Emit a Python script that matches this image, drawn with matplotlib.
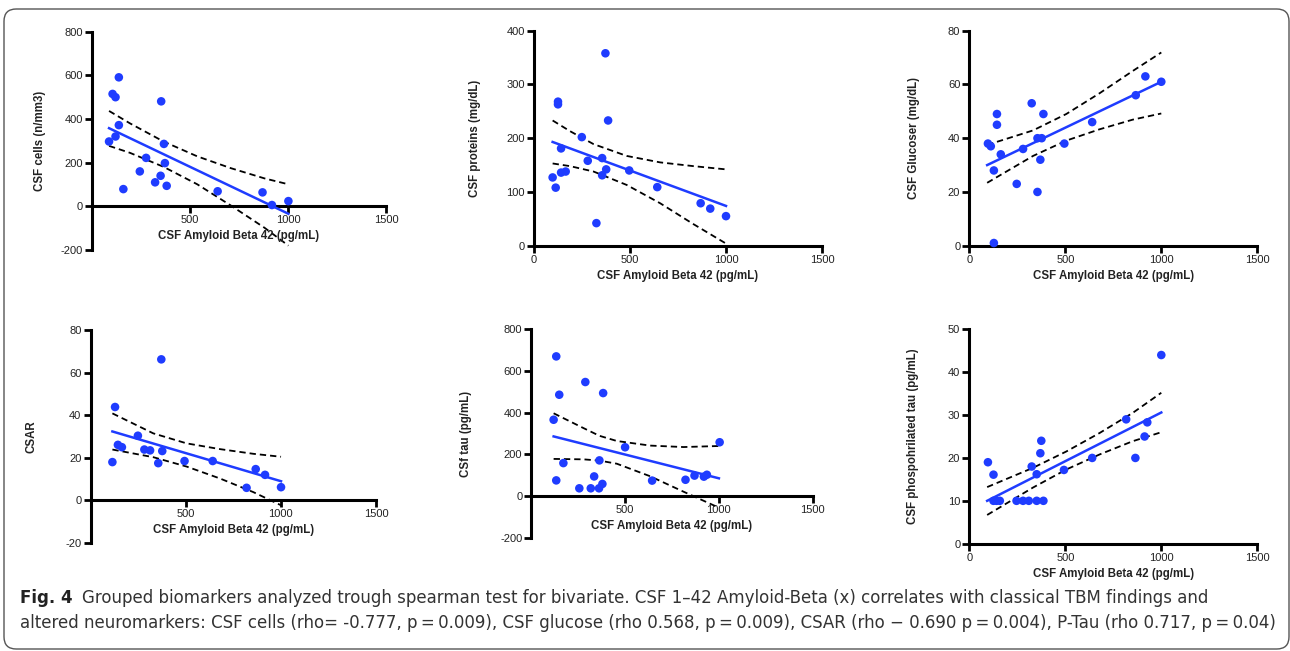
import numpy as np
import matplotlib
matplotlib.use('Agg')
import matplotlib.pyplot as plt
from matplotlib.patches import FancyBboxPatch
from matplotlib.transforms import blended_transform_factory

plt.rcParams['axes.unicode_minus'] = False

# ---------------- data ----------------
cells_x = [87, 105, 120, 137, 137, 120, 160, 244, 276, 322, 350, 353, 367, 372, 381, 641, 870, 918, 1002]
cells_y = [297, 515, 500, 591, 372, 320, 79, 160, 222, 110, 140, 481, 286, 198, 94, 69, 64, 6, 24]

prot_x = [97, 113, 125, 125, 141, 141, 165, 249, 280, 325, 355, 355, 372, 376, 386, 496, 642, 868, 918, 1000]
prot_y = [127, 108, 268, 263, 181, 136, 138, 202, 158, 42, 163, 131, 358, 142, 233, 140, 109, 79, 69, 55]

gluc_x = [97, 112, 128, 128, 144, 144, 164, 247, 280, 325, 355, 355, 370, 377, 386, 495, 640, 867, 917, 1000]
gluc_y = [38, 37, 28, 1, 49, 45, 34, 23, 36, 53, 20, 40, 32, 40, 49, 38, 46, 56, 63, 61]

csar_x = [115, 129, 144, 165, 249, 283, 313, 356, 372, 377, 494, 642, 820, 868, 917, 1001]
csar_y = [17.9, 43.8, 26.0, 24.9, 30.3, 23.8, 23.4, 17.4, 66.2, 23.1, 18.4, 18.4, 5.8, 14.6, 11.9, 6.1]

tau_x = [119, 133, 133, 149, 171, 256, 288, 317, 335, 361, 363, 379, 383, 500, 644, 822, 870, 920, 936, 1004]
tau_y = [366, 670, 75, 486, 158, 37, 547, 37, 94, 37, 171, 58, 494, 234, 74, 78, 98, 93, 102, 258]

ptau_x = [97, 126, 126, 142, 159, 246, 280, 310, 325, 351, 351, 370, 375, 386, 493, 640, 817, 865, 913, 927, 1000]
ptau_y = [19, 16.1, 10, 10, 10, 10, 10, 10, 18, 10, 16.2, 21.1, 24, 10, 17.2, 20, 29, 20, 25, 28.3, 44]

# regression lines (end points) and 95% confidence bands
cells_fit_x = [87, 1002]
cells_fit_y = [358, -34]
cells_band_x = [87, 194, 365, 537, 708, 880, 1002]
cells_band_hi = [437, 380, 297, 229, 175, 128, 101]
cells_band_lo = [277, 245, 181, 101, 4, -98, -180]

prot_fit_x = [97, 1000]
prot_fit_y = [193, 74]
prot_band_x = [97, 188, 310, 483, 657, 831, 1000]
prot_band_hi = [233, 213, 189, 167, 155, 148, 142]
prot_band_lo = [153, 148, 138, 113, 79, 40, 4]

gluc_fit_x = [93, 1000]
gluc_fit_y = [30.0, 61.0]
gluc_band_x = [93, 332, 505, 678, 851, 1000]
gluc_band_hi = [37.5, 42.9, 49.0, 56.7, 65.0, 71.9]
gluc_band_lo = [23.4, 33.4, 39.1, 43.3, 46.9, 49.2]

csar_fit_x = [115, 1001]
csar_fit_y = [32.3, 8.9]
csar_band_x = [115, 330, 505, 680, 855, 1001]
csar_band_hi = [40.8, 31.4, 26.7, 24.0, 21.8, 20.4]
csar_band_lo = [23.8, 20.2, 15.8, 10.2, 3.8, -2.4]

tau_fit_x = [119, 1000]
tau_fit_y = [286, 85]
tau_band_x = [119, 278, 363, 456, 633, 811, 1000]
tau_band_hi = [397, 326, 289, 264, 242, 235, 240]
tau_band_lo = [178, 176, 170, 155, 95, 21, -56]

ptau_fit_x = [93, 1000]
ptau_fit_y = [10.0, 30.6]
ptau_band_x = [93, 332, 505, 678, 851, 1000]
ptau_band_hi = [13.2, 17.7, 21.5, 25.8, 30.5, 35.2]
ptau_band_lo = [6.7, 13.1, 17.3, 20.8, 23.9, 26.0]

x_label = "CSF Amyloid Beta 42 (pg/mL)"
y_labels = ["CSF cells (n/mm3)", "CSF proteins (mg/dL)", "CSF Glucoser (mg/dL)",
            "CSAR", "CSf tau (pg/mL)", "CSF phospohrilated tau (pg/mL)"]

x_ticks_a = [500, 1000, 1500]
x_ticks_b = [0, 500, 1000, 1500]
y_ticks = [
    [-200, 0, 200, 400, 600, 800],
    [0, 100, 200, 300, 400],
    [0, 20, 40, 60, 80],
    [-20, 0, 20, 40, 60, 80],
    [-200, 0, 200, 400, 600, 800],
    [0, 10, 20, 30, 40, 50],
]

caption_bold = "Fig. 4"
caption_1 = ("Grouped biomarkers analyzed trough spearman test for bivariate. CSF 1\u201342 Amyloid-Beta (x) "
             "correlates with classical TBM findings and")
caption_2 = ("altered neuromarkers: CSF cells (rho= -0.777, p\u2009=\u20090.009), CSF glucose (rho 0.568, p\u2009=\u20090.009), "
             "CSAR (rho \u2212 0.690 p\u2009=\u20090.004), P-Tau (rho 0.717, p\u2009=\u20090.04)")

BLUE = '#1f3cff'
W, H = 1290, 651

fig = plt.figure(figsize=(W / 100, H / 100), dpi=100)
fig.patch.set_facecolor('white')

# frame
frame = FancyBboxPatch((4 / W, 2 / H), 1285 / W, 640 / H,
                       boxstyle="round,pad=0,rounding_size=0.0095",
                       mutation_aspect=W / H, transform=fig.transFigure,
                       facecolor='none', edgecolor='#555555', lw=1.0)
fig.patches.append(frame)

# axes layout in pixels: (left, top, right, bottom) of plot area
boxes = [
    (92, 31.7, 386, 250),
    (534, 30.7, 822, 245.7),
    (969.3, 30.7, 1257.3, 245.7),
    (90.5, 330, 376, 542.7),
    (531.3, 329.3, 812.7, 537.7),
    (969.3, 329.3, 1257.3, 543.7),
]
ylabel_off = [52, 59, 55, 59, 65, 56]

panels = [
    (cells_x, cells_y, cells_fit_x, cells_fit_y, cells_band_x, cells_band_hi, cells_band_lo),
    (prot_x, prot_y, prot_fit_x, prot_fit_y, prot_band_x, prot_band_hi, prot_band_lo),
    (gluc_x, gluc_y, gluc_fit_x, gluc_fit_y, gluc_band_x, gluc_band_hi, gluc_band_lo),
    (csar_x, csar_y, csar_fit_x, csar_fit_y, csar_band_x, csar_band_hi, csar_band_lo),
    (tau_x, tau_y, tau_fit_x, tau_fit_y, tau_band_x, tau_band_hi, tau_band_lo),
    (ptau_x, ptau_y, ptau_fit_x, ptau_fit_y, ptau_band_x, ptau_band_hi, ptau_band_lo),
]

FONT = 'Liberation Sans'
DASH = (0, (3.5, 2.2))

for i, ((l, t, r, b), (xd, yd, fx, fy, bx, bhi, blo)) in enumerate(zip(boxes, panels)):
    ax = fig.add_axes([l / W, 1 - b / H, (r - l) / W, (b - t) / H])
    yt = y_ticks[i]
    ax.set_xlim(0, 1500)
    ax.set_ylim(yt[0], yt[-1])
    ax.set_xticks(x_ticks_a if yt[0] < 0 else x_ticks_b)
    ax.set_yticks(yt)
    for sp in ['top', 'right']:
        ax.spines[sp].set_visible(False)
    ax.spines['left'].set_linewidth(2.2)
    ax.spines['bottom'].set_linewidth(2.2)
    ax.spines['bottom'].set_position(('data', 0))
    ax.tick_params(direction='out', length=5, width=2, labelsize=8,
                   colors='black', pad=1.5)
    for lab in ax.get_xticklabels() + ax.get_yticklabels():
        lab.set_fontfamily(FONT)
        lab.set_color('#222222')
    ax.patch.set_alpha(0)

    ax.plot(bx, bhi, ls=DASH, color='black', lw=1.3, zorder=2, clip_on=False)
    ax.plot(bx, blo, ls=DASH, color='black', lw=1.3, zorder=2, clip_on=False)
    ax.plot(fx, fy, color=BLUE, lw=1.8, zorder=3, clip_on=False)
    ax.scatter(xd, yd, s=38, color=BLUE, edgecolors='none', zorder=4, clip_on=False)

    tr = blended_transform_factory(ax.transAxes, ax.transData)
    ax.annotate(x_label, xy=(0.5, 0), xycoords=tr, xytext=(0, -30),
                textcoords='offset pixels', ha='center', va='center',
                fontsize=8.3, fontweight='bold', fontfamily=FONT, color='#222222')
    ax.annotate(y_labels[i], xy=(0, 0.5), xycoords='axes fraction',
                xytext=(-ylabel_off[i], 0), textcoords='offset pixels',
                ha='center', va='center', rotation=90,
                fontsize=8.3, fontweight='bold', fontfamily=FONT, color='#222222')

# caption
cap_fam = 'DejaVu Sans'
fig.text(20 / W, 1 - 603 / H, caption_bold, fontsize=12, fontweight='bold',
         fontfamily=cap_fam, va='baseline', ha='left', color='#222222')
fig.text(82 / W, 1 - 603 / H, caption_1, fontsize=12, fontfamily=cap_fam,
         va='baseline', ha='left', color='#333333')
fig.text(20 / W, 1 - 628 / H, caption_2, fontsize=12, fontfamily=cap_fam,
         va='baseline', ha='left', color='#333333')

fig.savefig('out.png', dpi=100, facecolor='white')
